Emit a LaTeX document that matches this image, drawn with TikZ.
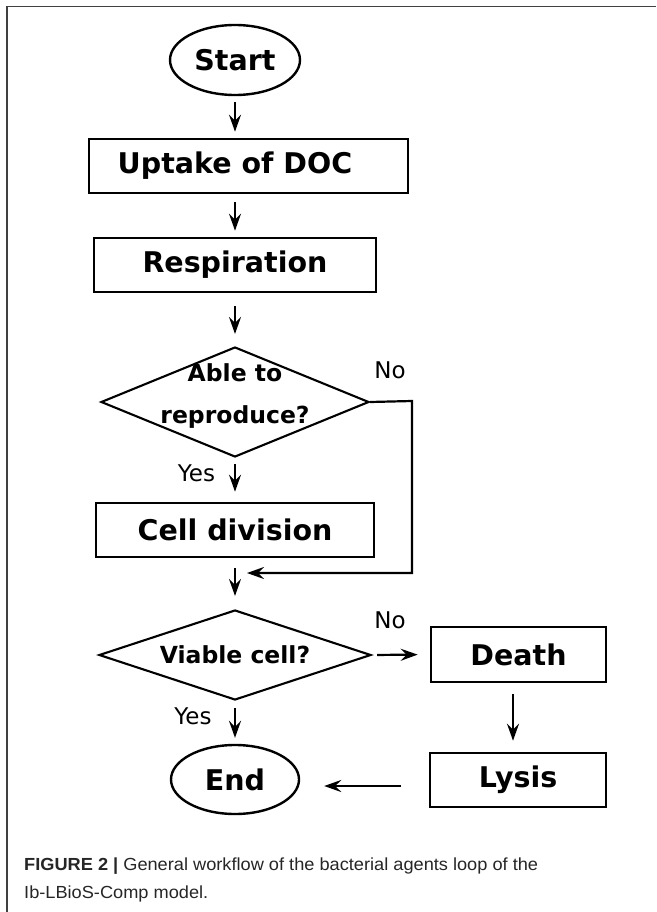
\documentclass[tikz,border=0pt]{standalone}
\usepackage{fontspec}
\newfontfamily\dv{DejaVu Sans}
\newfontfamily\capf{Liberation Sans}
\usetikzlibrary{shapes.geometric,arrows.meta,calc}
\begin{document}
\begin{tikzpicture}[x=1pt,y=-1pt,
  box/.style={draw,line width=2.6pt,inner sep=0pt,font=\dv\bfseries\fontsize{28.5}{32}\selectfont},
  oval/.style={ellipse,draw,line width=2.4pt,inner sep=0pt,font=\dv\bfseries\fontsize{28.5}{32}\selectfont},
  dia/.style={diamond,draw,line width=2.1pt,inner sep=0pt},
  dtext/.style={inner sep=0pt,font=\dv\bfseries\fontsize{23.5}{42}\selectfont,align=center},
  lab/.style={inner sep=0pt,font=\dv\fontsize{23}{25}\selectfont},
  arr/.style={-{Stealth[length=17pt,width=12pt,inset=6pt]},line width=2.2pt},
  frameline/.style={draw=black!75,line width=1.5pt},
  captext/.style={inner sep=0pt,anchor=base west,text=black!85}]
\useasboundingbox (0,0) rectangle (656,912);
\fill[white] (0,0) rectangle (656,912);
\draw[frameline] (7,912) -- (7,6.5) -- (656,6.5);

\node[oval,minimum width=130pt,minimum height=70pt] (start) at (235,60) {Start};
\node[box,minimum width=319pt,minimum height=54pt] (uptake) at (248.5,166) {Uptake of DOC\hspace*{27pt}};
\node[box,minimum width=282pt,minimum height=54pt] (resp) at (235,265) {Respiration};
\node[dia,minimum width=268pt,minimum height=110pt] (d1) at (235,402) {};
\node[dtext] (d1t) at (235,396) {Able to\\reproduce?};
\node[box,minimum width=278pt,minimum height=54pt] (cell) at (235,530) {Cell division};
\node[dia,minimum width=272pt,minimum height=90pt] (d2) at (235,655) {};
\node[dtext] (d2t) at (235,655) {Viable cell?};
\node[box,minimum width=175pt,minimum height=55pt] (death) at (518.5,654.5) {Death};
\node[box,minimum width=176pt,minimum height=54pt] (lysis) at (518,780) {Lysis};
\node[oval,minimum width=128pt,minimum height=69pt] (end) at (235,779.5) {End};

\node[lab] (no1) at (390,370) {No};
\node[lab] (yes1) at (196.5,473) {Yes};
\node[lab] (no2) at (390,620) {No};
\node[lab] (yes2) at (193,716) {Yes};

\coordinate (nc) at (412,401);
\coordinate (j) at (235,573);

\draw[arr,shorten <=6pt,shorten >=6pt] (start.south) -- (start.south |- uptake.north);
\draw[arr,shorten <=8pt,shorten >=6pt] (resp.north |- uptake.south) -- (resp.north);
\draw[arr,shorten <=13pt,shorten >=12pt] (resp.south) -- (d1.north);
\draw[arr,shorten <=6pt,shorten >=10pt] (d1.south) -- (cell.north);
\draw[arr,shorten >=12pt] (d1.east) -- (nc) |- (j);
\draw[arr,shorten <=10pt,shorten >=13pt] (cell.south) -- (d2.north);
\draw[arr,shorten <=7pt,shorten >=6pt] (d2.south) -- (end.north);
\draw[arr,shorten <=5pt,shorten >=12pt] (d2.east) -- (death.west);
\draw[arr,shorten <=11pt,shorten >=11pt] ([xshift=-5.5pt]death.south) -- ([xshift=-5pt]lysis.north);
\draw[arr,shorten <=28pt,shorten >=24pt] ([yshift=-6pt]lysis.west) -- ([yshift=-6pt]lysis.west -| end.east);

\node[captext] (cap1) at (24,870) {\scalebox{1.04}[1]{\capf\fontsize{17.5}{20}\selectfont\textbf{FIGURE 2 |} General workflow of the bacterial agents loop of the}};
\node[captext] (cap2) at (24,898) {\scalebox{1.04}[1]{\capf\fontsize{17.5}{20}\selectfont Ib-LBioS-Comp model.}};
\end{tikzpicture}
\end{document}
